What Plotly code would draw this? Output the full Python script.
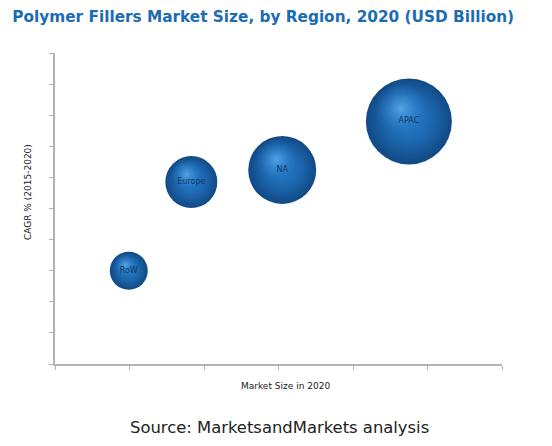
import plotly.graph_objects as go

regions = ["RoW", "Europe", "NA", "APAC"]
market_size = [0.99, 1.83, 3.05, 4.75]
cagr = [3.0, 5.85, 6.24, 7.8]
bubble_px = [38, 52, 68, 86]

# plot geometry (page has an 8px body margin)
W, H = 544, 438
L, R, T, B = 47, 50, 45, 82
x_range = [0, 6]
y_range = [0, 10]
PW, PH = W - L - R, H - T - B
px_x = PW / (x_range[1] - x_range[0])
px_y = PH / (y_range[1] - y_range[0])

fig = go.Figure()

# base spheres (radial gradient: gradient.color = centre, marker.color = edge)
fig.add_trace(go.Scatter(
    x=market_size, y=cagr, mode="markers",
    marker=dict(size=bubble_px, color="#114a86", opacity=1,
                gradient=dict(type="radial", color="#2479c6"),
                line=dict(width=0)),
    hoverinfo="skip", showlegend=False))

# inner body tone
fig.add_trace(go.Scatter(
    x=market_size,
    y=[y + 0.08 * s / 2 / px_y for y, s in zip(cagr, bubble_px)],
    mode="markers",
    marker=dict(size=[s * 0.9 for s in bubble_px], color="rgba(31,110,185,0)", opacity=1,
                gradient=dict(type="radial", color="rgba(34,118,196,0.95)"),
                line=dict(width=0)),
    hoverinfo="skip", showlegend=False))

# highlights (offset up-left by a fraction of the radius)
hx = [x - 0.18 * s / 2 / px_x for x, s in zip(market_size, bubble_px)]
hy = [y + 0.30 * s / 2 / px_y for y, s in zip(cagr, bubble_px)]
fig.add_trace(go.Scatter(
    x=hx, y=hy, mode="markers",
    marker=dict(size=[s * 0.6 for s in bubble_px], color="rgba(40,125,200,0)", opacity=1,
                gradient=dict(type="radial", color="rgba(90,170,236,0.9)"),
                line=dict(width=0)),
    hoverinfo="skip", showlegend=False))

# labels
fig.add_trace(go.Scatter(
    x=market_size, y=cagr, mode="text", text=regions,
    textfont=dict(family="DejaVu Sans", size=8, color="#17365d"),
    textposition="middle center", hoverinfo="skip", showlegend=False))

axis_common = dict(showline=True, linecolor="#b3b3b3", linewidth=1.5,
                   ticks="outside", tickcolor="#b3b3b3", ticklen=4,
                   showticklabels=False, showgrid=False, zeroline=False,
                   dtick=1, fixedrange=True)

axis_font = dict(family="DejaVu Sans", size=9, color="#222")

fig.update_layout(
    width=W, height=H,
    margin=dict(l=L, r=R, t=T, b=B),
    paper_bgcolor="white", plot_bgcolor="white",
    title=dict(text="<b>Polymer Fillers Market Size, by Region, 2020 (USD Billion)</b>",
               font=dict(family="DejaVu Sans", size=15.3, color="#1b6cb3"),
               x=0.008, xanchor="left", y=1 - 9 / H, yanchor="middle"),
    xaxis=dict(range=x_range, **axis_common),
    yaxis=dict(range=y_range, **axis_common),
    annotations=[
        dict(text="Market Size in 2020", xref="paper", yref="paper",
             x=(277 - L) / PW, y=-(378 - (H - B)) / PH,
             xanchor="center", yanchor="middle", showarrow=False, font=axis_font),
        dict(text="CAGR % (2015-2020)", xref="paper", yref="paper", textangle=-90,
             x=(20 - L) / PW, y=((H - B) - 184) / PH,
             xanchor="center", yanchor="middle", showarrow=False, font=axis_font),
        dict(text="Source: MarketsandMarkets analysis", xref="paper", yref="paper",
             x=(271 - L) / PW, y=-(419 - (H - B)) / PH,
             xanchor="center", yanchor="middle", showarrow=False,
             font=dict(family="DejaVu Sans", size=16.4, color="#222")),
    ],
)

fig.write_html("out.html")
